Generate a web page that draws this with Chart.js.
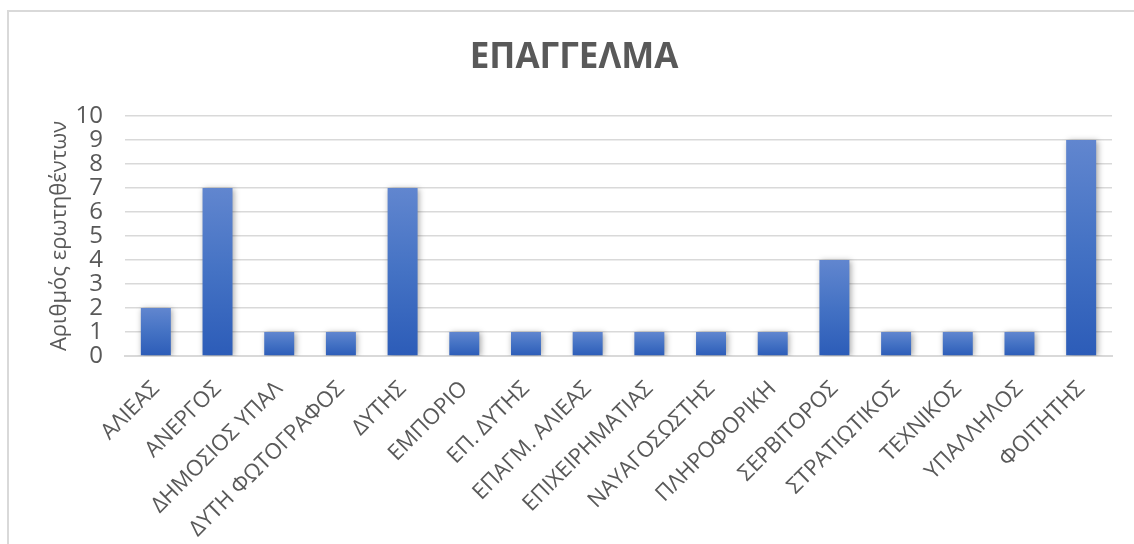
<!DOCTYPE html>
<html>
<head>
<meta charset="utf-8">
<script src="https://cdn.jsdelivr.net/npm/chart.js@4.4.1/dist/chart.umd.min.js"></script>
<style>
  html, body { margin: 0; padding: 0; background: #ffffff; overflow: hidden; }
  #wrap { position: relative; width: 1134px; height: 544px; }
  #frame { position: absolute; left: 7px; top: 10px; width: 2000px; height: 2000px; border: 2px solid #d9d9d9; box-sizing: border-box; }
  canvas { position: absolute; left: 0; top: 0; }
</style>
</head>
<body>
<div id="wrap">
  <div id="frame"></div>
  <canvas id="c" width="1134" height="544"></canvas>
</div>
<script>
const chartTitle = "ΕΠΑΓΓΕΛΜΑ";
const yAxisTitle = "Αριθμός ερωτηθέντων";
const categories = [
  "ΑΛΙΕΑΣ", "ΑΝΕΡΓΟΣ", "ΔΗΜΟΣΙΟΣ ΥΠΑΛ", "ΔΥΤΗ ΦΩΤΟΓΡΑΦΟΣ", "ΔΥΤΗΣ", "ΕΜΠΟΡΙΟ",
  "ΕΠ. ΔΥΤΗΣ", "ΕΠΑΓΜ. ΑΛΙΕΑΣ", "ΕΠΙΧΕΙΡΗΜΑΤΙΑΣ", "ΝΑΥΑΓΟΣΩΣΤΗΣ", "ΠΛΗΡΟΦΟΡΙΚΗ",
  "ΣΕΡΒΙΤΟΡΟΣ", "ΣΤΡΑΤΙΩΤΙΚΟΣ", "ΤΕΧΝΙΚΟΣ", "ΥΠΑΛΛΗΛΟΣ", "ΦΟΙΤΗΤΗΣ"
];
const counts = [2, 7, 1, 1, 7, 1, 1, 1, 1, 1, 1, 4, 1, 1, 1, 9];
const yTicks = [0, 1, 2, 3, 4, 5, 6, 7, 8, 9, 10];

const FONT = "'Open Sans', 'Noto Sans', sans-serif";
const TEXT = "#595959";

function barGradient(ctx) {
  const chart = ctx.chart;
  const area = chart.chartArea;
  if (!area || ctx.type !== 'data') return '#4472c4';
  const y = chart.scales.y;
  const top = y.getPixelForValue(ctx.raw);
  const base = y.getPixelForValue(0);
  if (!isFinite(top) || Math.abs(base - top) < 1) return '#4472c4';
  const g = chart.ctx.createLinearGradient(0, top, 0, base);
  g.addColorStop(0, '#6186cf');
  g.addColorStop(0.5, '#4472c4');
  g.addColorStop(1, '#2c5cb8');
  return g;
}

const shadowPlugin = {
  id: 'barShadow',
  beforeDatasetsDraw(chart) {
    const c = chart.ctx;
    c.save();
    c.shadowColor = 'rgba(0,0,0,0.35)';
    c.shadowBlur = 6;
    c.shadowOffsetX = 1.5;
    c.shadowOffsetY = 1;
  },
  afterDatasetsDraw(chart) {
    chart.ctx.restore();
  }
};

new Chart(document.getElementById('c'), {
  type: 'bar',
  data: {
    labels: categories,
    datasets: [{
      data: counts,
      backgroundColor: barGradient,
      borderWidth: 0,
      barPercentage: 0.486,
      categoryPercentage: 1.0
    }]
  },
  plugins: [shadowPlugin],
  options: {
    responsive: false,
    animation: false,
    events: [],
    layout: { padding: { left: 36, right: 22, top: 0, bottom: 0 } },
    plugins: {
      legend: { display: false },
      tooltip: { enabled: false },
      title: {
        display: true,
        text: chartTitle,
        color: TEXT,
        font: { family: FONT, size: 35, weight: 'bold', lineHeight: 1.2 },
        padding: { top: 37, bottom: 37 }
      }
    },
    scales: {
      x: {
        grid: { display: false, drawTicks: false },
        border: { display: true, color: '#d9d9d9', width: 2 },
        ticks: {
          color: TEXT,
          font: { family: FONT, size: 22 },
          minRotation: 45,
          maxRotation: 45,
          autoSkip: false,
          padding: 20
        },
        afterFit(scale) { scale.height = 188; }
      },
      y: {
        min: 0,
        max: 10,
        afterBuildTicks(scale) { scale.ticks = yTicks.map(v => ({ value: v })); },
        grid: { color: '#d9d9d9', lineWidth: 1.5, drawTicks: false },
        border: { display: false },
        ticks: {
          color: TEXT,
          font: { family: FONT, size: 24 },
          padding: 22,
          autoSkip: false,
          stepSize: 1
        },
        title: {
          display: true,
          text: yAxisTitle,
          color: TEXT,
          font: { family: FONT, size: 22 },
          padding: { top: 11, bottom: 0 }
        },
        afterFit(scale) { scale.width = 89; }
      }
    }
  }
});
</script>
</body>
</html>
